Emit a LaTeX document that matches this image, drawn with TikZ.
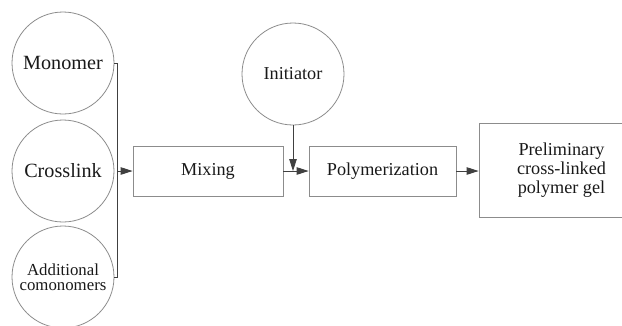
\documentclass[tikz,border=0pt]{standalone}
\usepackage{fontspec}
\setmainfont{Liberation Serif}
\newfontfamily\diagfont{Liberation Serif}
\usetikzlibrary{arrows.meta}
\definecolor{edge}{gray}{0.55}
\definecolor{wire}{gray}{0.25}
\tikzset{
  every node/.style={font=\diagfont\fontsize{18.2}{18.7}\selectfont, text=black!90},
  bigtext/.style={font=\diagfont\fontsize{20.2}{20}\selectfont},
  smalltext/.style={font=\diagfont\fontsize{16.8}{15.5}\selectfont},
  roundsrc/.style={circle, draw=edge, line width=0.8pt, minimum size=102pt, inner sep=0pt, align=center},
  stepbox/.style={rectangle, draw=edge, line width=0.8pt, inner sep=0pt, align=center},
  flow/.style={draw=wire, line width=0.8pt, -{Triangle[length=12pt,width=7.5pt]}},
  wireline/.style={draw=wire, line width=0.8pt}
}
\begin{document}
\begin{tikzpicture}[x=1pt,y=-1pt]
\useasboundingbox (0,0) rectangle (622,325);
\clip (0,0) rectangle (622,325);
\node[roundsrc, bigtext] (mono) at (63,63) {Monomer};
\node[roundsrc, bigtext] (cross) at (63,171) {Crosslink};
\node[roundsrc, smalltext] (add) at (63,277) {Additional\\comonomers};
\node[roundsrc] (init) at (293,74) {Initiator};
\node[stepbox, minimum width=150pt, minimum height=50pt] (mix) at (208,171) {Mixing};
\node[stepbox, minimum width=147pt, minimum height=50pt] (poly) at (382.5,171) {Polymerization};
\node[stepbox, minimum width=165pt, minimum height=94pt] (prelim) at (561.5,170) {Preliminary\\cross-linked\\polymer gel};
\coordinate (btop) at (117,63);
\coordinate (bbot) at (117,277);
\coordinate (bmid) at (117,171);
\coordinate (join) at (293,171);
\draw[wireline] (mono.east) -- (btop) -- (bbot) -- (add.east);
\draw[flow] (bmid) -- (mix.west);
\draw[flow] (mix.east) -- (poly.west);
\draw[flow] (init.south) -- (join);
\draw[flow] (poly.east) -- (prelim.west |- poly.east);
\end{tikzpicture}
\end{document}
